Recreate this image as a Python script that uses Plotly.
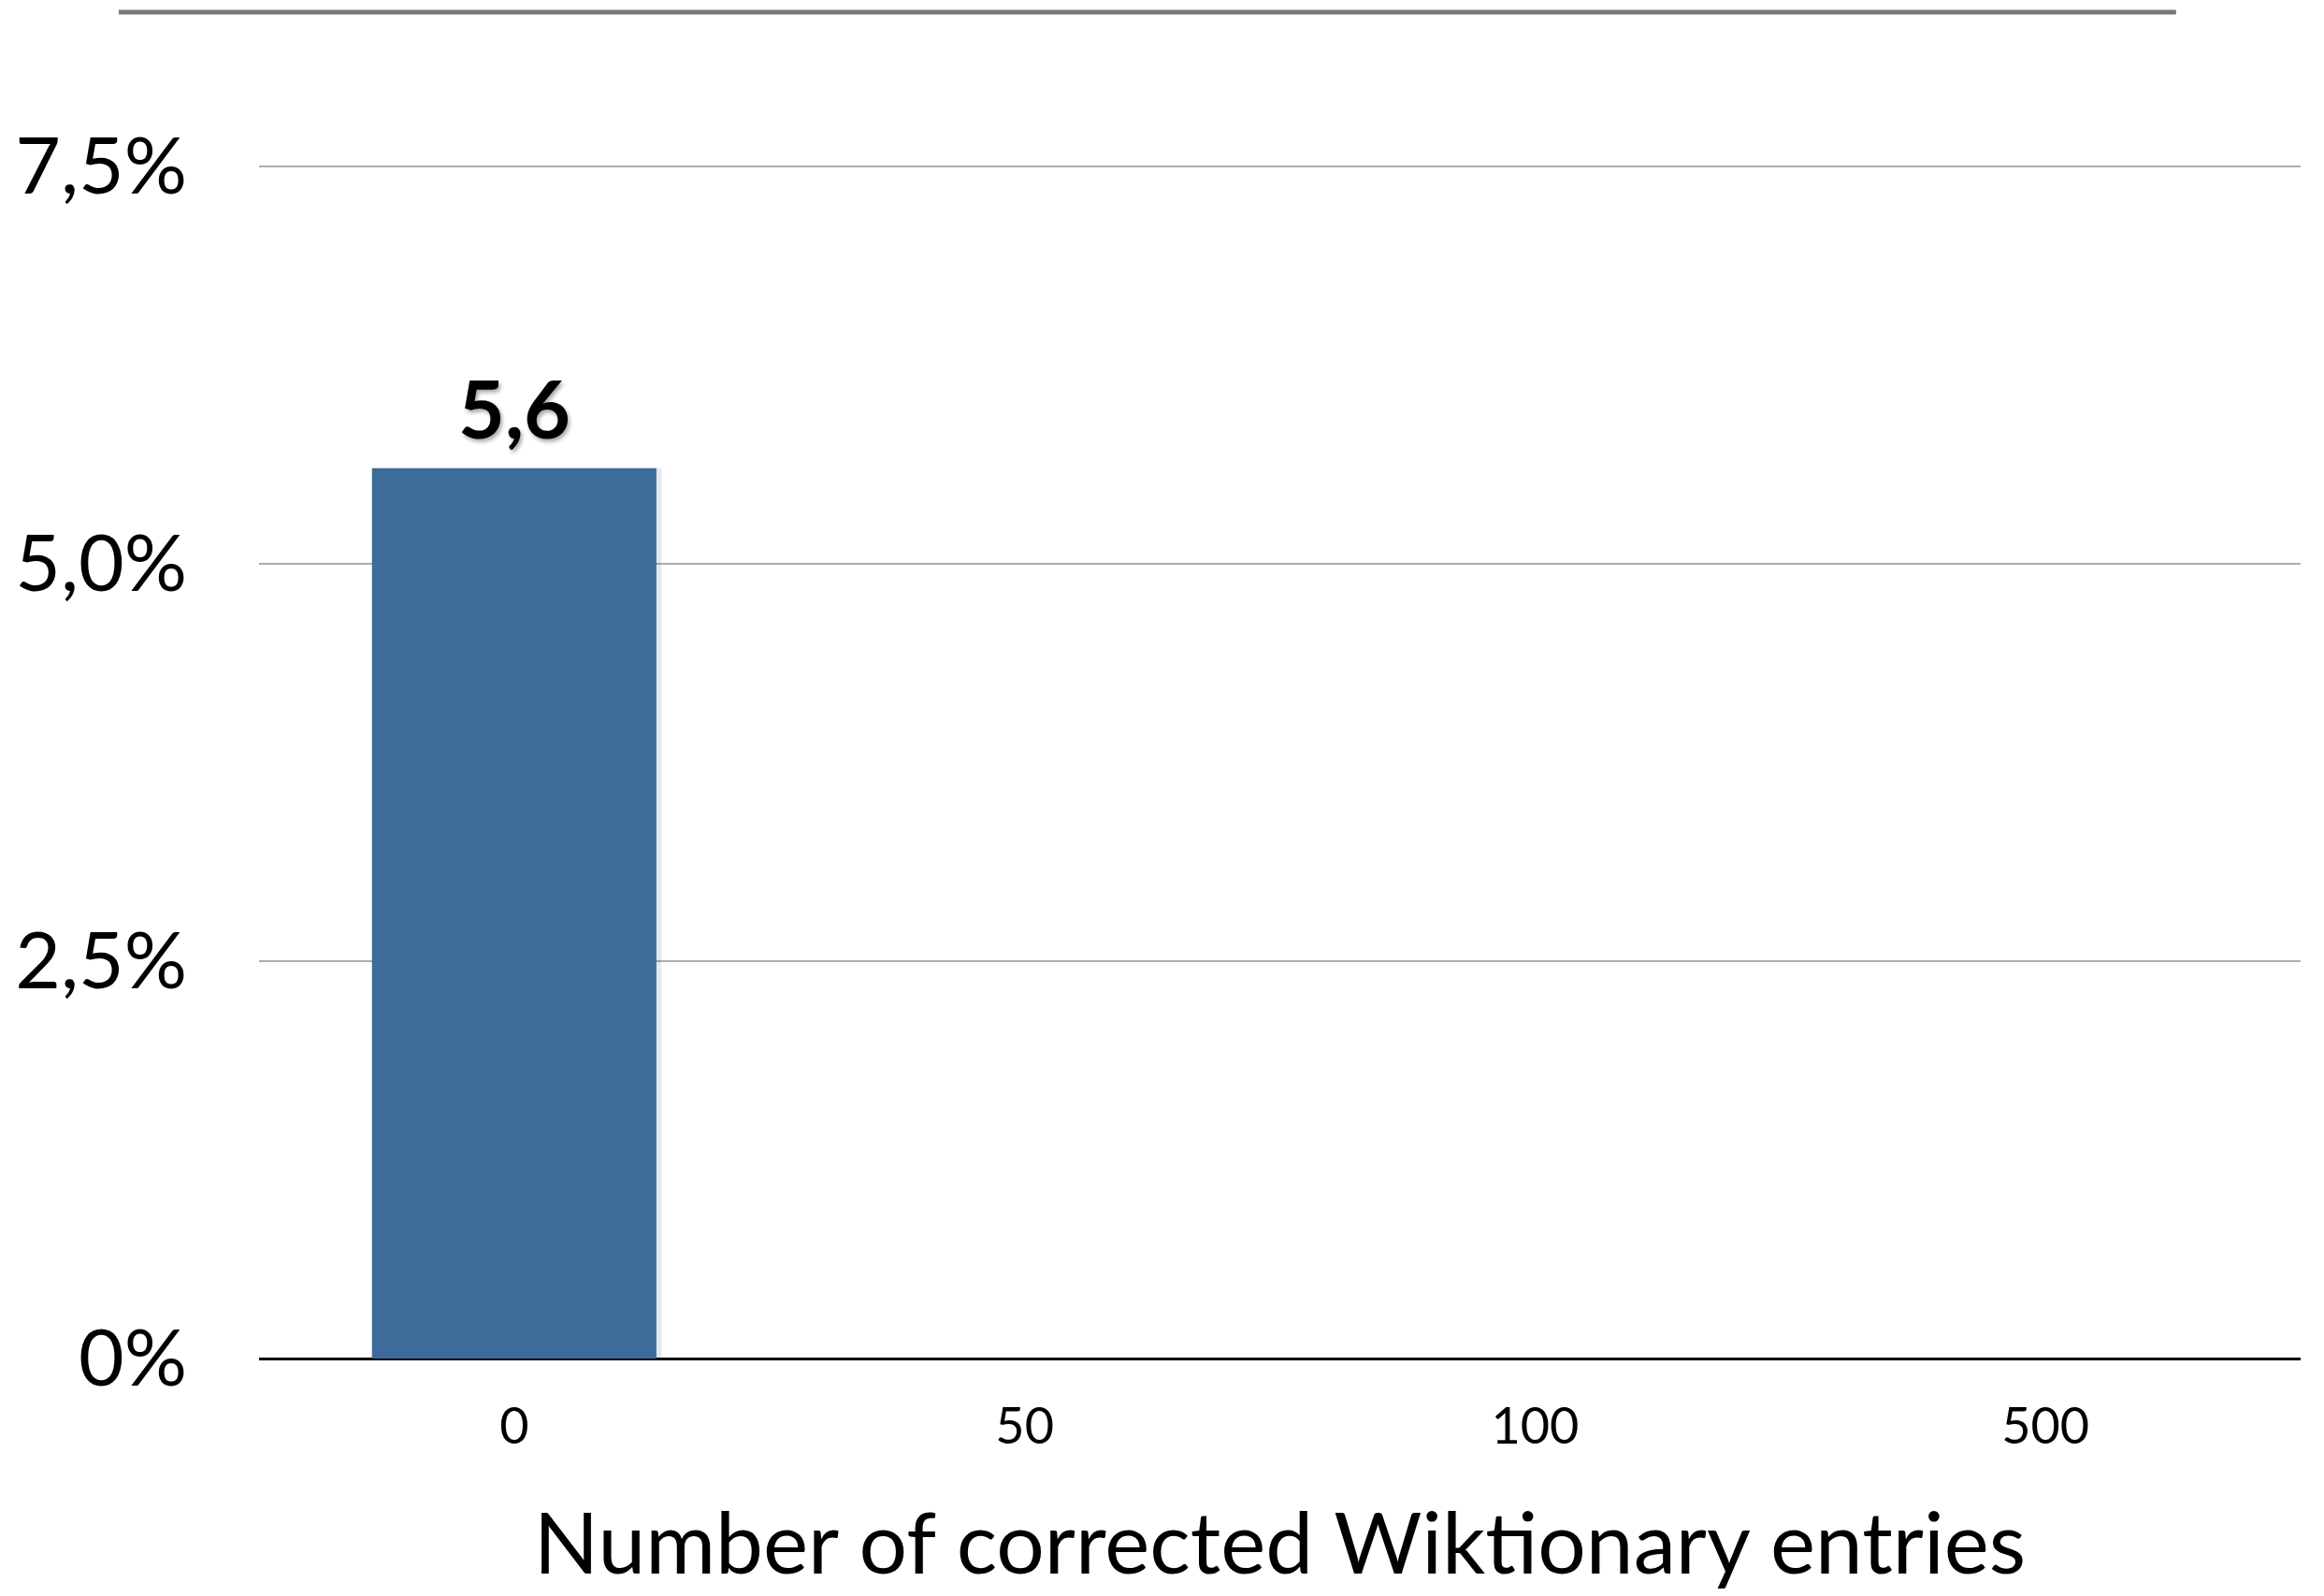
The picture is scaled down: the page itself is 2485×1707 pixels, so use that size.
import plotly.graph_objects as go

# Share of errors by number of corrected Wiktionary entries
categories = ["0", "50", "100", "500"]
values = [5.6, None, None, None]

y_tickvals = [0, 2.5, 5.0, 7.5]
y_ticktext = ["0%", "2,5%", "5,0%", "7,5%"]

x_title = "Number of corrected Wiktionary entries"

FONT = "Lato, 'Open Sans', sans-serif"
BAR_COLOR = "#3D6B9A"
BAR_WIDTH = 0.557

fig = go.Figure()

# soft drop shadow behind the bars
fig.add_trace(go.Bar(
    x=categories, y=values,
    width=BAR_WIDTH + 0.012, offset=-BAR_WIDTH / 2 - 0.002,
    marker=dict(color="rgba(0,0,0,0.09)", line=dict(width=0)),
    hoverinfo="skip", showlegend=False,
))

fig.add_trace(go.Bar(
    x=categories, y=values,
    width=BAR_WIDTH,
    marker=dict(color=BAR_COLOR, line=dict(width=0)),
    showlegend=False,
))

# value labels above each bar (decimal comma)
for cat, val in zip(categories, values):
    if val is None:
        continue
    fig.add_annotation(
        x=cat, y=val, xref="x", yref="y",
        text=f"{val:.1f}".replace(".", ","),
        showarrow=False, yanchor="bottom", yshift=12,
        font=dict(family=FONT, size=86, color="#000000",
                  weight="bold", shadow="2px 3px 4px rgba(0,0,0,0.35)"),
    )

# separator rule across the top of the slide
fig.add_shape(type="line", xref="paper", yref="paper",
              x0=-0.0687, x1=0.939, y0=1.1215, y1=1.1215,
              line=dict(color="#777777", width=5))

fig.update_layout(
    width=2485, height=1707,
    margin=dict(l=277, r=25, t=169, b=254),
    paper_bgcolor="white", plot_bgcolor="white",
    barmode="overlay",
    separators=",.",
    font=dict(family=FONT, color="#000000"),
    xaxis=dict(
        type="category",
        categoryorder="array", categoryarray=categories,
        range=[-0.5, 3.5],
        showgrid=False, zeroline=False,
        showline=False, ticks="",
        tickfont=dict(family=FONT, size=54, color="#000000"),
        ticklabelstandoff=36,
        title=dict(text=x_title, font=dict(family=FONT, size=91, color="#000000"),
                   standoff=64),
        automargin=False,
    ),
    yaxis=dict(
        range=[0, 7.55],
        tickvals=y_tickvals, ticktext=y_ticktext,
        showgrid=True, gridcolor="#ADADAD", gridwidth=2,
        zeroline=True, zerolinecolor="#000000", zerolinewidth=3,
        showline=False, ticks="",
        tickfont=dict(family=FONT, size=84, color="#000000"),
        ticklabelstandoff=76,
        automargin=False,
    ),
)

fig.write_html("out.html")
